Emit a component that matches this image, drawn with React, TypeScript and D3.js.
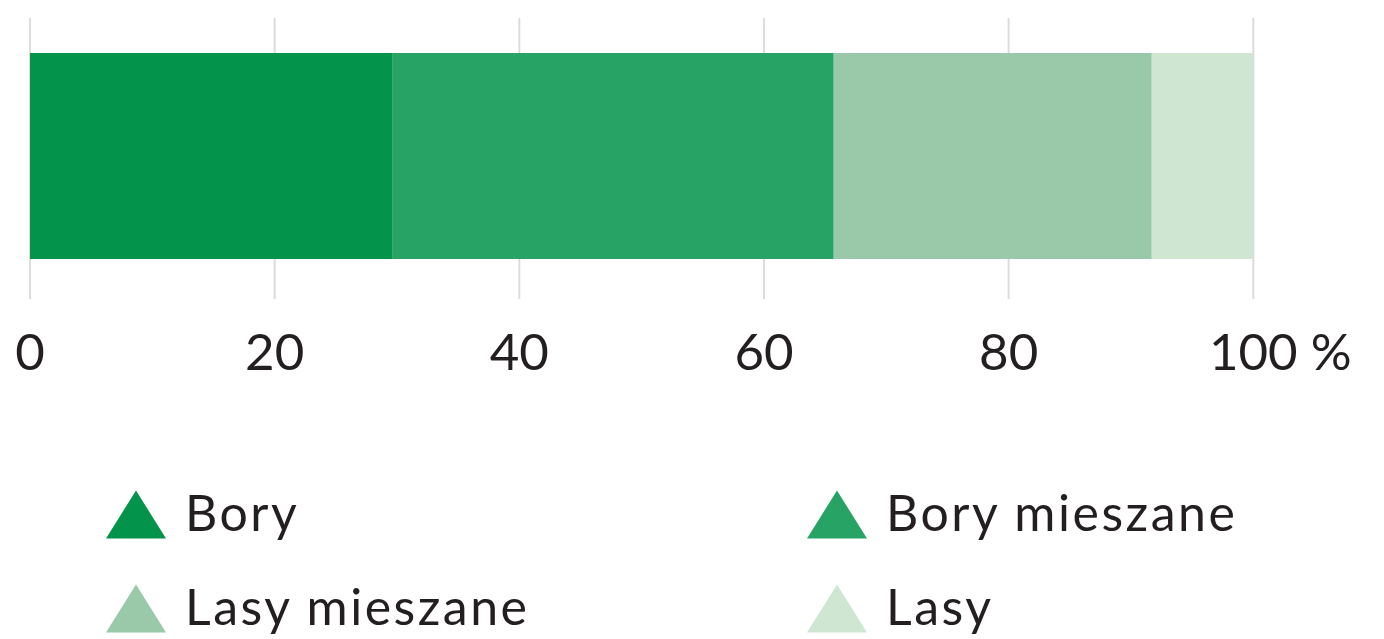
import React, { useRef, useEffect } from "react";
import * as d3 from "d3";

// forest types and their share (%)
const categories = ["Bory", "Bory mieszane", "Lasy mieszane", "Lasy"];
const shares = [29.6, 36.1, 26.0, 8.3];
const colors = ["#03934a", "#26a365", "#9ac9a9", "#cfe6d3"];
const ticks = [0, 20, 40, 60, 80, 100];

const W = 1384;
const H = 639;

const App = () => {
  const svgRef = useRef<SVGSVGElement>(null);

  useEffect(() => {
    const svg = d3.select(svgRef.current);
    svg.selectAll("*").remove();

    const font = "Lato, 'Open Sans', sans-serif";
    const textColor = "#231f20";

    const x = d3.scaleLinear().domain([0, 100]).range([30, 1253.3]);
    const y = d3.scaleBand().domain(["all"]).range([53, 259]).padding(0);

    const row: Record<string, number> = { key: 0 } as any;
    categories.forEach((c, i) => (row[c] = shares[i]));
    const stacked = d3.stack<any>().keys(categories)([row]);

    // grid lines
    svg
      .append("g")
      .selectAll("line")
      .data(ticks)
      .enter()
      .append("line")
      .attr("x1", (d) => x(d))
      .attr("x2", (d) => x(d))
      .attr("y1", 18)
      .attr("y2", 299)
      .attr("stroke", "#dcdcdc")
      .attr("stroke-width", 2);

    // bar segments
    svg
      .append("g")
      .selectAll("rect")
      .data(stacked)
      .enter()
      .append("rect")
      .attr("x", (s) => x(s[0][0]))
      .attr("width", (s) => x(s[0][1]) - x(s[0][0]))
      .attr("y", y("all")!)
      .attr("height", y.bandwidth())
      .attr("fill", (s, i) => colors[i]);

    // tick labels
    const labels = svg
      .append("g")
      .style("font-family", font)
      .style("font-size", "51px")
      .attr("fill", textColor);

    labels
      .selectAll("text")
      .data(ticks)
      .enter()
      .append("text")
      .attr("x", (d) => x(d))
      .attr("y", 370)
      .attr("text-anchor", "middle")
      .text((d) => d);

    // percent sign after the last tick
    const last = labels.selectAll<SVGTextElement, number>("text").filter((d) => d === 100);
    const lastWidth = last.node() ? last.node()!.getComputedTextLength() : 0;
    labels
      .append("text")
      .attr("x", x(100) + lastWidth / 2)
      .attr("y", 370)
      .attr("xml:space", "preserve")
      .style("white-space", "pre")
      .text(" %");

    // legend
    const colX = [106, 807];
    const rowY = [538.5, 632.5];
    const legend = svg
      .append("g")
      .style("font-family", font)
      .style("font-size", "50px")
      .style("letter-spacing", "2.5px")
      .attr("fill", textColor);

    categories.forEach((c, i) => {
      const lx = colX[i % 2];
      const ly = rowY[Math.floor(i / 2)];
      const tri = d3.path();
      tri.moveTo(lx, ly);
      tri.lineTo(lx + 30, ly - 48);
      tri.lineTo(lx + 60, ly);
      tri.closePath();
      legend.append("path").attr("d", tri.toString()).attr("fill", colors[i]);
      legend
        .append("text")
        .attr("x", lx + 79)
        .attr("y", ly - 7.5)
        .text(c);
    });
  }, []);

  return (
    <svg
      ref={svgRef}
      width={W}
      height={H}
      style={{ position: "absolute", left: 0, top: 0, background: "#fff" }}
    />
  );
};

export default App;
